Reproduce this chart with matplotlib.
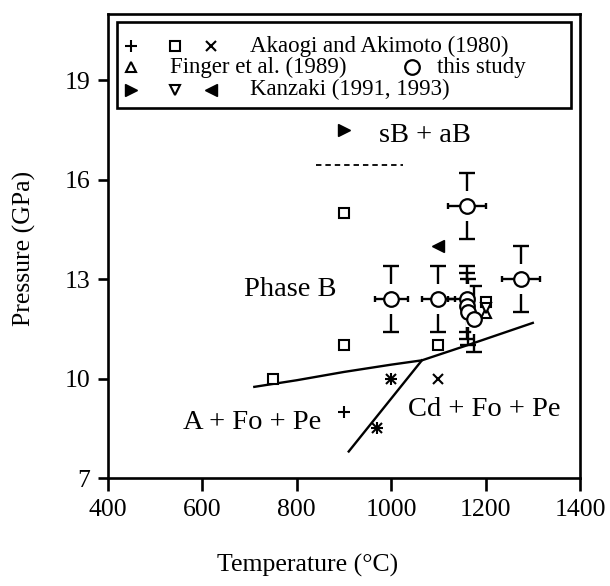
import matplotlib
matplotlib.use('Agg')
import matplotlib.pyplot as plt
from matplotlib.patches import Rectangle

plt.rcParams['font.family'] = ['Liberation Serif', 'DejaVu Serif']

# ---------------- data ----------------
# Akaogi and Akimoto (1980)
ak_plus_T = [900, 1000, 970]
ak_plus_P = [9.0, 10.0, 8.5]
ak_sq_T = [750, 900, 900, 1100, 1200]
ak_sq_P = [10.0, 11.0, 15.0, 11.0, 12.32]
ak_x_T = [1000, 970, 1100]
ak_x_P = [10.0, 8.5, 10.0]
# Finger et al. (1989)
fi_T = [1200]
fi_P = [11.97]
# Kanzaki (1991, 1993)
kz_right_T = [900]
kz_right_P = [17.5]
kz_down_T = [1200]
kz_down_P = [12.13]
kz_left_T = [1100]
kz_left_P = [14.0]
# this study
ts_T = [1000, 1100, 1160, 1275, 1160, 1160, 1163, 1175]
ts_P = [12.4, 12.4, 15.2, 13.0, 12.4, 12.2, 12.0, 11.8]
ts_Perr = [1.0, 1.0, 1.0, 1.0, 1.0, 1.0, 1.0, 1.0]
ts_Terr_lo = [35, 35, 40, 40, 40, 0, 0, 0]
ts_Terr_hi = [35, 35, 40, 40, 0, 0, 0, 0]

# phase boundaries
bnd1_T = [710, 800, 900, 1000, 1065, 1160, 1300]
bnd1_P = [9.75, 9.95, 10.2, 10.42, 10.55, 11.0, 11.68]
bnd2_T = [910, 1065]
bnd2_P = [7.8, 10.55]
dash_T = [840, 1025]
dash_P = [16.45, 16.45]

# region labels
reg_labels = ['sB + aB', 'Phase B', 'A + Fo + Pe', 'Cd + Fo + Pe']
reg_T = [1072, 786, 705, 1197]
reg_P = [17.33, 12.7, 8.67, 9.06]

x_ticks = [400, 600, 800, 1000, 1200, 1400]
y_ticks = [7, 10, 13, 16, 19]

# ---------------- figure ----------------
fig = plt.figure(figsize=(6.1, 5.86), dpi=100)
ax = fig.add_axes([108/610, 1-478/586, 472/610, 464/586])
ax.set_xlim(400, 1400)
ax.set_ylim(7, 21)
ax.set_xticks(x_ticks)
ax.set_yticks(y_ticks)
for s in ax.spines.values():
    s.set_linewidth(1.9)
ax.tick_params(axis='x', direction='out', length=9, width=1.9, labelsize=18.5, pad=6)
ax.tick_params(axis='y', direction='out', length=7, width=1.9, labelsize=18.5, pad=6)

lw = 1.7
ax.plot(bnd1_T, bnd1_P, color='k', lw=lw)
ax.plot(bnd2_T, bnd2_P, color='k', lw=lw)
ax.plot(dash_T, dash_P, color='k', lw=1.3, ls=(0, (3, 2.2)))

# error bars for this study
ax.errorbar(ts_T, ts_P, yerr=ts_Perr, fmt='none', ecolor='k', elinewidth=lw,
            capsize=5.5, capthick=lw)
ax.errorbar(ts_T, ts_P, xerr=[ts_Terr_lo, ts_Terr_hi], fmt='none', ecolor='k',
            elinewidth=lw, capsize=2.5, capthick=lw)
# white gap around circles on vertical bars
ax.plot(ts_T, ts_P, ls='none', marker='|', ms=21, mew=4, color='white')

ms = dict(ls='none', color='k')
ax.plot(ak_plus_T, ak_plus_P, marker='+', ms=8.5, mew=1.5, **ms)
ax.plot(ak_x_T, ak_x_P, marker='x', ms=7, mew=1.5, **ms)
ax.plot(ak_sq_T, ak_sq_P, marker='s', ms=7.2, mew=1.5, mfc='white', **ms)
ax.plot(fi_T, fi_P, marker='^', ms=6.5, mew=1.5, mfc='white', **ms)
ax.plot(kz_down_T, kz_down_P, marker='v', ms=6.5, mew=1.5, mfc='white', **ms)
ax.plot(kz_right_T, kz_right_P, marker='>', ms=8, mew=1.0, **ms)
ax.plot(kz_left_T, kz_left_P, marker='<', ms=8, mew=1.0, **ms)
ax.plot(ts_T, ts_P, marker='o', ms=10.5, mew=1.6, mfc='white', **ms)

for lab, t, p in zip(reg_labels, reg_T, reg_P):
    ax.text(t, p, lab, fontsize=20.5, ha='center', va='center')

# legend box
tr = ax.transAxes
ax.add_patch(Rectangle((0.019, 0.797), 0.962, 0.186, transform=tr, fill=False,
                       lw=1.9, ec='k', zorder=5))
r1, r2, r3 = 0.930, 0.885, 0.837
fs = 16.5
mk = dict(transform=tr, ls='none', color='k', clip_on=False, zorder=6)
ax.plot([0.049], [r1], marker='+', ms=8.5, mew=1.5, **mk)
ax.plot([0.142], [r1], marker='s', ms=7.2, mew=1.5, mfc='white', **mk)
ax.plot([0.218], [r1], marker='x', ms=7, mew=1.5, **mk)
ax.text(0.300, r1, 'Akaogi and Akimoto (1980)', transform=tr, fontsize=fs, va='center', zorder=6)
ax.plot([0.049], [r2], marker='^', ms=6.5, mew=1.5, mfc='white', **mk)
ax.text(0.131, r2, 'Finger et al. (1989)', transform=tr, fontsize=fs, va='center', zorder=6)
ax.plot([0.644], [r2], marker='o', ms=10.5, mew=1.6, mfc='white', **mk)
ax.text(0.697, r2, 'this study', transform=tr, fontsize=fs, va='center', zorder=6)
ax.plot([0.049], [r3], marker='>', ms=8, mew=1.0, **mk)
ax.plot([0.142], [r3], marker='v', ms=6.5, mew=1.5, mfc='white', **mk)
ax.plot([0.218], [r3], marker='<', ms=8, mew=1.0, **mk)
ax.text(0.300, r3, 'Kanzaki (1991, 1993)', transform=tr, fontsize=fs, va='center', zorder=6)

fig.text(308/610, 1-565/586, 'Temperature (°C)', fontsize=18.5, ha='center', va='center')
fig.text(24/610, 1-248/586, 'Pressure (GPa)', fontsize=18.5, ha='center', va='center', rotation=90)

fig.savefig('out.png', dpi=100)
